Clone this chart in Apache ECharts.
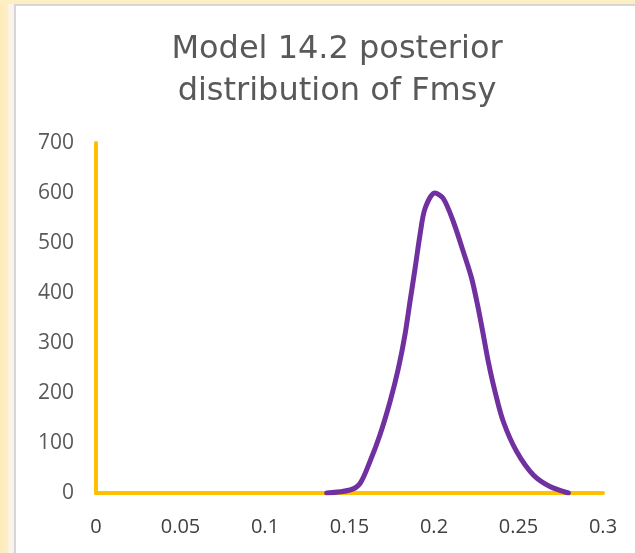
<!DOCTYPE html>
<html>
<head>
<meta charset="utf-8">
<script src="https://cdn.jsdelivr.net/npm/echarts@6/dist/echarts.min.js"></script>
<style>
  html, body { margin: 0; padding: 0; width: 635px; height: 553px; overflow: hidden;
    background: linear-gradient(90deg, #FCEBB8 0px, #FDF0C8 8px, #FDF2EC 9px, #FBF3EE 13px, #FDF0C8 14px); }
  #panel { position: absolute; left: 14px; top: 4px; right: 0; bottom: 0; background: #ffffff;
    border-left: 2px solid #D6D6D6; border-top: 2px solid #D6D6D6; }
  #topband { position: absolute; left: 0; top: 0; width: 635px; height: 4px; background: #FCEFC4; }
  #chart { position: absolute; left: 0; top: 0; width: 635px; height: 553px; }
</style>
</head>
<body>
<div id="topband"></div>
<div id="panel"></div>
<div id="chart"></div>
<script>
// Data
const titleLines = ["Model 14.2 posterior", "distribution of Fmsy"];
const fmsy = [0.1365, 0.1503, 0.1562, 0.1621, 0.1680, 0.1740, 0.1789, 0.1828, 0.1858, 0.1888, 0.1917, 0.1947,
              0.2005, 0.2055, 0.2114, 0.2173, 0.2223, 0.2262, 0.2292, 0.2321, 0.2361, 0.2410, 0.2489,
              0.2588, 0.2686, 0.2795];
const density = [0, 6, 19, 63, 116, 183, 249, 316, 383, 449, 516, 569,
                 600, 589, 543, 483, 429, 369, 316, 263, 203, 143, 83,
                 36, 13, 0];
const xTicks = { min: 0, max: 0.3, interval: 0.05 };
const yTicks = { min: 0, max: 700, interval: 100 };

const chart = echarts.init(document.getElementById('chart'), null, { renderer: 'canvas' });
chart.setOption({
  backgroundColor: 'transparent',
  animation: false,
  title: {
    text: titleLines.join('\n'),
    left: 332,
    textAlign: 'center',
    top: 24,
    textStyle: { fontFamily: 'DejaVu Sans', fontSize: 32, fontWeight: 'normal', color: '#595959', lineHeight: 42 }
  },
  grid: { left: 96, right: 32, top: 143, bottom: 60, containLabel: false },
  xAxis: {
    type: 'value', min: xTicks.min, max: xTicks.max, interval: xTicks.interval,
    axisLine: { show: true, onZero: false, lineStyle: { color: '#FFC000', width: 4 } },
    axisTick: { show: false },
    splitLine: { show: false },
    axisLabel: { margin: 24, fontFamily: 'Open Sans', fontSize: 20, color: '#404040',
      formatter: v => String(+v.toFixed(2)) }
  },
  yAxis: {
    type: 'value', min: yTicks.min, max: yTicks.max, interval: yTicks.interval,
    axisLine: { show: true, lineStyle: { color: '#FFC000', width: 4 } },
    axisTick: { show: false },
    splitLine: { show: false },
    axisLabel: { margin: 22, fontFamily: 'Open Sans', fontSize: 21, color: '#595959' }
  },
  series: [{
    type: 'line',
    data: fmsy.map((x, i) => [x, density[i]]),
    smooth: 0.3,
    showSymbol: false,
    lineStyle: { color: '#7030A0', width: 5, cap: 'round', join: 'round' },
    itemStyle: { color: '#7030A0' }
  }]
});
</script>
</body>
</html>
